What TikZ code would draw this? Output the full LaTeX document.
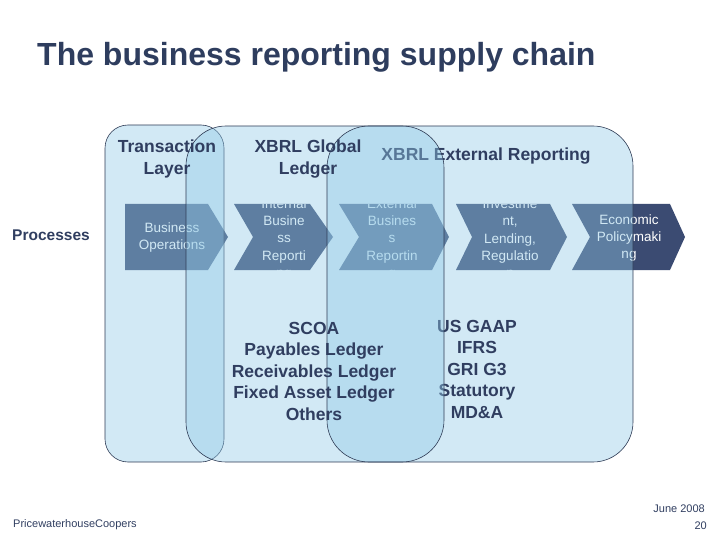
\documentclass[tikz,border=0pt]{standalone}
\usepackage{fontspec}
\setmainfont{Liberation Sans}
\definecolor{chev}{RGB}{59,75,114}
\definecolor{zone}{RGB}{145,201,230}
\definecolor{edge}{RGB}{46,59,85}
\definecolor{ink}{RGB}{48,62,96}
\definecolor{titleink}{RGB}{46,61,94}
\tikzset{
  zonebox/.style={fill=zone, fill opacity=0.41, draw=edge, draw opacity=1, line width=0.6pt},
  chevtext/.style={text=white, align=center, inner sep=0pt, font=\fontsize{13.5}{17.3}\selectfont},
  headtext/.style={text=ink, align=center, inner sep=0pt, font=\bfseries\fontsize{17.5}{22}\selectfont},
  listtext/.style={text=ink, align=center, inner sep=0pt, font=\bfseries\fontsize{17.5}{21.5}\selectfont},
  foottext/.style={text=ink, inner sep=0pt, font=\fontsize{11}{13}\selectfont},
}
\begin{document}
\begin{tikzpicture}[x=1pt,y=-1pt]
\useasboundingbox (0,0) rectangle (720,540);

% title and row label
\node[anchor=base west, text=titleink, inner sep=0pt, font=\bfseries\fontsize{32}{38}\selectfont] (title) at (37,66) {The business reporting supply chain};
\node[anchor=west, text=ink, inner sep=0pt, font=\bfseries\fontsize{15.5}{18}\selectfont] (processes) at (12,235) {Processes};

% chevrons
\begin{scope}
  \clip (125,204) -- (208,204) -- (228,237) -- (208,270) -- (125,270) -- cycle;
  \fill[chev] (120,200) rectangle (235,275);
  \node[chevtext] (ch1) at (172,237.5) {Business\\Operations};
\end{scope}
\begin{scope}
  \clip (234,204) -- (310,204) -- (333,237) -- (310,270) -- (234,270) -- (253,237) -- cycle;
  \fill[chev] (230,200) rectangle (340,275);
  \node[chevtext] (ch2) at (284,239.5) {Internal\\Busine\\ss\\Reporti\\ng};
\end{scope}
\begin{scope}
  \clip (339,204) -- (432,204) -- (449,237) -- (432,270) -- (339,270) -- (359,237) -- cycle;
  \fill[chev] (335,200) rectangle (455,275);
  \node[chevtext] (ch3) at (392,239.5) {External\\Busines\\s\\Reportin\\g};
\end{scope}
\begin{scope}
  \clip (456,204) -- (550,204) -- (567,237) -- (550,270) -- (456,270) -- (472,237) -- cycle;
  \fill[chev] (450,200) rectangle (575,275);
  \node[chevtext] (ch4) at (510,238.5) {Investme\\nt,\\Lending,\\Regulatio\\n};
\end{scope}
\begin{scope}
  \clip (572,204) -- (670,204) -- (685,237) -- (670,270) -- (572,270) -- (590,237) -- cycle;
  \fill[chev] (565,200) rectangle (690,275);
  \node[chevtext] (ch5) at (629,238) {Economic\\Policymaki\\ng};
\end{scope}

% zones A and B
\draw[zonebox, rounded corners=23pt] (105,125) rectangle (224,462);
\draw[zonebox, rounded corners=40pt] (186,126) rectangle (633,462);

% texts lying under zone C
\node[headtext] (tl) at (167,159) {Transaction\\Layer};
\node[headtext] (er) at (486,156) {XBRL External Reporting};
\node[listtext] (l2) at (477,369) {US GAAP\\IFRS\\GRI G3\\Statutory\\MD\&A};

% zone C
\draw[zonebox, rounded corners=42pt] (327,126) rectangle (444,462);

% texts lying over zone C
\node[headtext] (gl) at (308,159) {XBRL Global\\Ledger};
\node[listtext] (l1) at (314,371) {SCOA\\Payables Ledger\\Receivables Ledger\\Fixed Asset Ledger\\Others};

% footer
\node[foottext, anchor=base west] (pwc) at (13,527) {PricewaterhouseCoopers};
\node[foottext, anchor=base east] (date) at (705,512) {June 2008};
\node[foottext, anchor=base east] (page) at (707,529) {20};
\end{tikzpicture}
\end{document}
